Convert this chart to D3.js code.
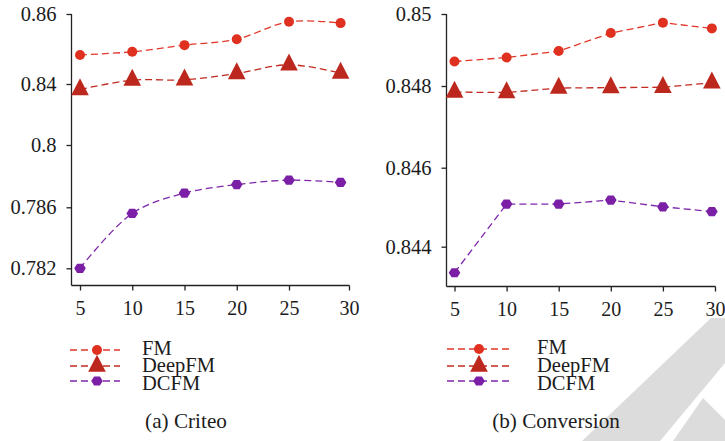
<!DOCTYPE html>
<html>
<head>
<meta charset="utf-8">
<script src="https://cdn.jsdelivr.net/npm/d3@7"></script>
<style>
	body { margin: 0; background: #fff; }
	svg { display: block; }
	text { font-family: "Liberation Serif", "DejaVu Serif", serif; fill: #1c1c1c; }
</style>
</head>
<body>
<svg id="chart" width="725" height="441"></svg>
<script>
// epochs shown on the x axis
var epochTicks = [5, 10, 15, 20, 25, 30];
var seriesNames = ["FM", "DeepFM", "DCFM"];

// (a) Criteo
var criteoX = [5, 10, 15, 20, 25, 29.3];
var criteoFM = [0.8483, 0.8492, 0.8511, 0.8528, 0.8578, 0.8574];
var criteoDeepFM = [0.8364, 0.8411, 0.8412, 0.8430, 0.8455, 0.8431];
var criteoDCFM = [0.7820, 0.7856, 0.7892, 0.7911, 0.7921, 0.7916];
var criteoTicks = [0.782, 0.786, 0.8, 0.84, 0.86];
var criteoTickLabels = ["0.782", "0.786", "0.8", "0.84", "0.86"];

// (b) Conversion
var convX = [5, 10, 15, 20, 25, 29.7];
var convFM = [0.84868, 0.84879, 0.84897, 0.84947, 0.84976, 0.84960];
var convDeepFM = [0.84785, 0.84784, 0.84795, 0.84796, 0.84797, 0.84809];
var convDCFM = [0.84334, 0.84508, 0.84508, 0.84518, 0.84501, 0.84489];
var convTicks = [0.844, 0.846, 0.848, 0.85];
var convTickLabels = ["0.844", "0.846", "0.848", "0.85"];

var svg = d3.select("#chart");
var serif = "'Liberation Serif', 'DejaVu Serif', serif";

var lineColor = { FM: "#e2372a", DeepFM: "#c22a20", DCFM: "#7e27aa" };
var markColor = { FM: "#e0301f", DeepFM: "#bd281e", DCFM: "#7a1fa6" };

// watermark in the lower right corner
var wm = svg.append("g").attr("fill", "#dcdcdc");
wm.append("polygon").attr("points", "711,318 725,318 725,363 660,441 582,441");
wm.append("polygon").attr("points", "673,441 703,398 725,420 725,441");

function marker(sel, name) {
	if (name === "FM") {
		sel.append("circle").attr("r", 5).attr("fill", markColor.FM);
	} else if (name === "DeepFM") {
		sel.append("path").attr("d", "M0,-11.3L8.8,5.7L-8.8,5.7Z").attr("fill", markColor.DeepFM);
	} else {
		var hex = d3.range(6).map(i => {
			var a = i * Math.PI / 3;
			return [5.8 * Math.cos(a), 5.3 * Math.sin(a)];
		});
		sel.append("path").attr("d", "M" + hex.join("L") + "Z").attr("fill", markColor.DCFM);
	}
}

function drawPanel(p) {
	var g = svg.append("g");

	// axes lines
	g.append("line")
		.attr("x1", p.axisX).attr("x2", p.axisX)
		.attr("y1", p.y.range()[p.y.range().length - 1]).attr("y2", p.axisY)
		.attr("stroke", "#222").attr("stroke-width", 1.3);
	g.append("line")
		.attr("x1", p.axisX).attr("x2", p.xEnd)
		.attr("y1", p.axisY).attr("y2", p.axisY)
		.attr("stroke", "#222").attr("stroke-width", 1.3);

	var yAxisCall = d3.axisLeft(p.y)
		.tickValues(p.yTicks)
		.tickFormat((d, i) => p.yLabels[i])
		.tickSize(5).tickSizeOuter(0).tickPadding(10);
	var ya = g.append("g")
		.attr("transform", "translate(" + p.axisX + ",0)")
		.call(yAxisCall);

	var xAxisCall = d3.axisBottom(p.x)
		.tickValues(epochTicks)
		.tickFormat(d3.format("d"))
		.tickSize(5).tickSizeOuter(0).tickPadding(10);
	var xa = g.append("g")
		.attr("transform", "translate(0," + p.axisY + ")")
		.call(xAxisCall);

	ya.attr("font-size", 20.5);
	xa.attr("font-size", 20);
	[ya, xa].forEach(a => {
		a.attr("font-family", serif);
		a.select(".domain").remove();
		a.selectAll("line").attr("stroke", "#222").attr("stroke-width", 1.3);
		a.selectAll("text").attr("fill", "#1c1c1c");
	});

	var line = d3.line()
		.x(d => p.x(d[0]))
		.y(d => p.y(d[1]))
		.curve(p.curve);

	seriesNames.forEach(name => {
		var pts = p.xs.map((x, i) => [x, p.values[name][i]]);
		g.append("path")
			.attr("d", line(pts))
			.attr("fill", "none")
			.attr("stroke", lineColor[name])
			.attr("stroke-width", 1.3)
			.attr("stroke-dasharray", "7,4");
		pts.forEach(d => {
			var m = g.append("g").attr("transform", "translate(" + p.x(d[0]) + "," + p.y(d[1]) + ")");
			marker(m, name);
		});
	});

	// legend
	var legend = g.append("g");
	seriesNames.forEach((name, i) => {
		var row = legend.append("g")
			.attr("transform", "translate(0," + p.legendY[i] + ")");
		row.append("line")
			.attr("x1", p.legendX[0]).attr("x2", p.legendX[1])
			.attr("stroke", lineColor[name]).attr("stroke-width", 1.3)
			.attr("stroke-dasharray", "7,4");
		var m = row.append("g").attr("transform", "translate(" + p.legendX[2] + ",0)");
		marker(m, name);
		row.append("text")
			.attr("x", p.legendX[3])
			.attr("y", p.legendTextDy[i])
			.attr("font-size", "20.5px")
			.text(name);
	});

	g.append("text")
		.attr("x", p.captionX)
		.attr("y", 428)
		.attr("text-anchor", "middle")
		.attr("font-size", "21.2px")
		.text(p.caption);
}

drawPanel({
	x: d3.scaleLinear().domain([5, 25, 30]).range([80, 289, 349]),
	y: d3.scaleLinear().domain(criteoTicks).range([268.3, 207.3, 145, 84, 14]),
	xs: criteoX,
	values: { FM: criteoFM, DeepFM: criteoDeepFM, DCFM: criteoDCFM },
	yTicks: criteoTicks,
	yLabels: criteoTickLabels,
	axisX: 71.5,
	axisY: 285.5,
	xEnd: 349.5,
	curve: d3.curveCatmullRom.alpha(0.5),
	legendY: [350, 366, 381],
	legendTextDy: [5, 6, 9],
	legendX: [70, 120, 97, 142],
	captionX: 186,
	caption: "(a) Criteo"
});

drawPanel({
	x: d3.scaleLinear().domain([5, 30]).range([454.5, 715]),
	y: d3.scaleLinear().domain(convTicks).range([246.7, 167.7, 86, 14]),
	xs: convX,
	values: { FM: convFM, DeepFM: convDeepFM, DCFM: convDCFM },
	yTicks: convTicks,
	yLabels: convTickLabels,
	axisX: 446.5,
	axisY: 286.5,
	xEnd: 715.5,
	curve: d3.curveLinear,
	legendY: [349, 366, 381],
	legendTextDy: [5, 6, 9],
	legendX: [447, 510, 479, 537],
	captionX: 556,
	caption: "(b) Conversion"
});
</script>
</body>
</html>
